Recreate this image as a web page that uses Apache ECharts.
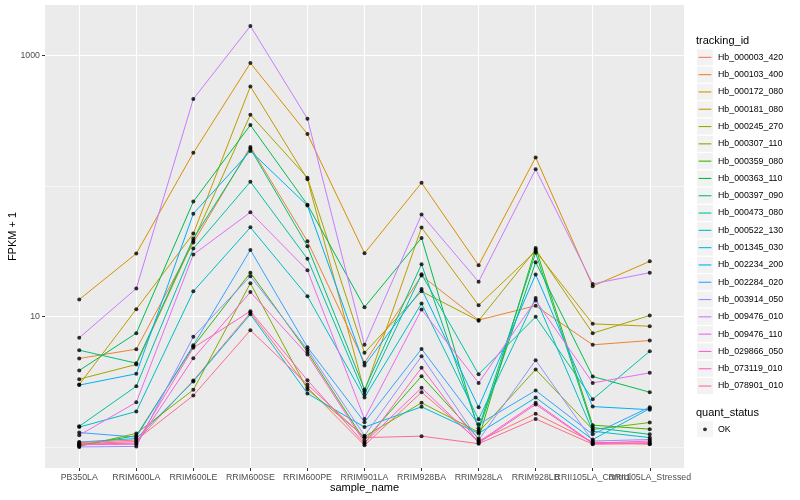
<!DOCTYPE html>
<html><head><meta charset="utf-8">
<script src="https://cdn.jsdelivr.net/npm/echarts@6/dist/echarts.min.js"></script>
<style>html,body{margin:0;padding:0;background:#fff}#c{width:800px;height:500px}</style>
</head><body><div id="c"></div>
<script>
// ---------- data ----------
const categories = ['PB350LA','RRIM600LA','RRIM600LE','RRIM600SE','RRIM600PE','RRIM901LA','RRIM928BA','RRIM928LA','RRIM928LB','RRII105LA_Control','RRII105LA_Stressed'];
const trackingIds = ['Hb_000003_420','Hb_000103_400','Hb_000172_080','Hb_000181_080','Hb_000245_270','Hb_000307_110','Hb_000359_080','Hb_000363_110','Hb_000397_090','Hb_000473_080','Hb_000522_130','Hb_001345_030','Hb_002234_200','Hb_002284_020','Hb_003914_050','Hb_009476_010','Hb_009476_110','Hb_029866_050','Hb_073119_010','Hb_078901_010'];
const Hb_000003_420 = [1.06, 1.10, 3.23, 10.7, 2.86, 1.03, 2.63, 1.11, 1.80, 1.09, 1.05];
const Hb_000103_400 = [4.77, 5.62, 36.9, 200, 37.8, 4.42, 20.6, 9.4, 12.1, 6.07, 6.55];
const Hb_000172_080 = [13.5, 30.4, 180, 879, 251, 30.6, 106, 24.7, 166, 17.1, 26.5];
const Hb_000181_080 = [3.01, 11.4, 43.3, 582, 113, 2.66, 48.1, 12.2, 31.7, 8.79, 8.43];
const Hb_000245_270 = [3.31, 4.29, 38.2, 353, 116, 5.27, 15.6, 9.3, 32.6, 7.45, 10.2];
const Hb_000307_110 = [1.01, 1.27, 2.74, 18.0, 2.76, 1.20, 2.18, 1.30, 3.93, 1.36, 1.54];
const Hb_000359_080 = [1.03, 1.22, 5.89, 21.7, 5.35, 1.12, 3.49, 1.16, 33.6, 1.47, 1.37];
const Hb_000363_110 = [3.86, 7.45, 76.1, 294, 72.1, 11.8, 40.1, 1.34, 26.1, 3.47, 2.63];
const Hb_000397_090 = [5.52, 4.39, 39.6, 194, 34.6, 2.76, 25.2, 1.39, 30.8, 1.41, 1.25];
const Hb_000473_080 = [1.44, 2.92, 33.2, 108, 27.7, 2.53, 21.1, 3.61, 9.95, 2.32, 5.42];
const Hb_000522_130 = [1.42, 1.87, 15.6, 48.3, 14.3, 2.39, 12.6, 1.63, 13.9, 1.32, 1.18];
const Hb_001345_030 = [1.09, 1.16, 3.18, 10.4, 2.57, 1.42, 2.03, 1.27, 2.39, 1.14, 1.97];
const Hb_002234_200 = [2.98, 3.64, 61.5, 186, 70.9, 4.21, 16.3, 2.02, 21.0, 2.04, 1.93];
const Hb_002284_020 = [1.29, 1.19, 6.03, 32.4, 5.82, 1.55, 5.65, 1.49, 2.71, 1.25, 2.02];
const Hb_003914_050 = [1.00, 1.01, 6.99, 20.4, 5.59, 1.22, 4.96, 1.13, 4.63, 1.11, 1.14];
const Hb_009476_010 = [6.87, 16.4, 466, 1689, 329, 6.07, 60.5, 18.5, 134.5, 17.8, 21.7];
const Hb_009476_110 = [1.23, 2.20, 29.9, 63.0, 22.6, 1.64, 11.3, 3.10, 13.3, 3.10, 3.70];
const Hb_029866_050 = [1.04, 1.05, 4.79, 15.4, 5.11, 1.08, 2.84, 1.09, 2.18, 1.07, 1.11];
const Hb_073119_010 = [1.05, 1.07, 5.76, 11.0, 3.25, 1.06, 4.05, 1.07, 2.12, 1.06, 1.08];
const Hb_078901_010 = [1.08, 1.13, 2.48, 7.85, 3.01, 1.18, 1.21, 1.06, 1.64, 1.05, 1.06];
const seriesValues = [Hb_000003_420, Hb_000103_400, Hb_000172_080, Hb_000181_080, Hb_000245_270, Hb_000307_110, Hb_000359_080, Hb_000363_110, Hb_000397_090, Hb_000473_080, Hb_000522_130, Hb_001345_030, Hb_002234_200, Hb_002284_020, Hb_003914_050, Hb_009476_010, Hb_009476_110, Hb_029866_050, Hb_073119_010, Hb_078901_010];
const yMajorTicks = [10, 1000];
const yMinorTicks = [1, 100];
const quantStatus = 'OK';

// ---------- style ----------
const palette = ['#F8766D','#EA8331','#D89000','#C09B00','#A3A500','#7CAE00','#39B600','#00BB4E','#00BF7D','#00C1A3','#00BFC4','#00BAE0','#00B0F6','#35A2FF','#9590FF','#C77CFF','#E76BF3','#FA62DB','#FF62BC','#FF6C91'];
const FONT = '"Liberation Sans", Arial, Helvetica, sans-serif';
const panel = {left: 45, top: 5, width: 639, height: 463};
const unit = panel.width / (categories.length - 1 + 1.2);

// log range with 5% expansion like ggplot
let lo = Infinity, hi = -Infinity;
seriesValues.forEach(a => a.forEach(v => { lo = Math.min(lo, Math.log10(v)); hi = Math.max(hi, Math.log10(v)); }));
const pad = (hi - lo) * 0.05;
const yMin = Math.pow(10, lo - pad), yMax = Math.pow(10, hi + pad);

const points = [];
seriesValues.forEach(vals => vals.forEach((v, j) => points.push([categories[j], v])));

const legendTop = 49.3, keyW = 16, keyH = 16, keyGap = 1.3, legendLeft = 697;
const lineIcon = 'path://M0,0M16,16M1.6,7.5L14.4,7.5L14.4,8.6L1.6,8.6Z';
const dotIcon = 'path://M0,0M16,16M6.1,8A1.9,1.9,0,1,1,9.9,8A1.9,1.9,0,1,1,6.1,8Z';
const legendBase = {orient: 'vertical', left: legendLeft, itemWidth: keyW, itemHeight: keyH, itemGap: keyGap, padding: 0, selectedMode: false};

const option = {
  animation: false,
  backgroundColor: '#FFFFFF',
  textStyle: {fontFamily: FONT},
  title: [
    {text: 'tracking_id', left: 696, top: 35, padding: 0, textStyle: {fontSize: 11, fontWeight: 'normal', color: '#000', fontFamily: FONT}},
    {text: 'quant_status', left: 696, top: 407, padding: 0, textStyle: {fontSize: 11, fontWeight: 'normal', color: '#000', fontFamily: FONT}}
  ],
  legend: [
    Object.assign({}, legendBase, {top: legendTop, data: trackingIds, icon: 'rect', z: 3,
      itemStyle: {color: '#F2F2F2', borderWidth: 0}, textStyle: {fontSize: 8.8, color: 'rgba(0,0,0,0)', fontFamily: FONT}}),
    Object.assign({}, legendBase, {top: legendTop, data: trackingIds, icon: lineIcon, z: 4,
      itemStyle: {borderWidth: 0}, textStyle: {fontSize: 8.8, color: '#000', fontFamily: FONT}}),
    Object.assign({}, legendBase, {top: 421.3, data: [quantStatus], icon: 'rect', z: 3,
      itemStyle: {color: '#F2F2F2', borderWidth: 0}, textStyle: {fontSize: 8.8, color: 'rgba(0,0,0,0)', fontFamily: FONT}}),
    Object.assign({}, legendBase, {top: 421.3, data: [quantStatus], icon: dotIcon, z: 4,
      itemStyle: {borderWidth: 0}, textStyle: {fontSize: 8.8, color: '#000', fontFamily: FONT}})
  ],
  grid: [
    {left: panel.left, top: panel.top, width: panel.width, height: panel.height, show: true, backgroundColor: '#EBEBEB', borderWidth: 0, containLabel: false, outerBoundsMode: 'none'},
    {left: panel.left + 0.6 * unit, top: panel.top, width: unit * (categories.length - 1), height: panel.height, show: false, containLabel: false, outerBoundsMode: 'none'}
  ],
  xAxis: [
    {gridIndex: 0, type: 'value', min: 0, max: 1, show: false},
    {gridIndex: 1, type: 'category', data: categories, boundaryGap: false,
      axisLine: {show: false},
      axisTick: {show: true, length: 3, interval: 0, lineStyle: {color: '#333333', width: 1}},
      axisLabel: {interval: 0, margin: 5, fontSize: 8.8, color: '#4D4D4D', fontFamily: FONT, hideOverlap: false},
      splitLine: {show: true, interval: 0, lineStyle: {color: '#FFFFFF', width: 1.1}},
      name: 'sample_name', nameLocation: 'middle', nameGap: 14, nameMoveOverlap: false,
      nameTextStyle: {fontSize: 11, color: '#000', fontFamily: FONT}}
  ],
  yAxis: [
    {gridIndex: 0, type: 'log', logBase: 10, min: yMin, max: yMax, position: 'left',
      axisLine: {show: false}, axisTick: {show: false, customValues: yMinorTicks}, axisLabel: {show: false},
      splitLine: {show: true, lineStyle: {color: '#FFFFFF', width: 0.55}}},
    {gridIndex: 0, type: 'log', logBase: 10, min: yMin, max: yMax, position: 'left', offset: 0,
      axisLine: {show: false},
      axisTick: {show: true, length: 3, customValues: yMajorTicks, lineStyle: {color: '#333333', width: 1}},
      axisLabel: {customValues: yMajorTicks, margin: 5, fontSize: 8.8, color: '#4D4D4D', fontFamily: FONT,
        formatter: v => String(Math.round(v))},
      splitLine: {show: true, lineStyle: {color: '#FFFFFF', width: 1.1}},
      name: 'FPKM + 1', nameLocation: 'middle', nameGap: 27, nameMoveOverlap: false,
      nameTextStyle: {fontSize: 11, color: '#000', fontFamily: FONT}},
    {gridIndex: 1, type: 'log', logBase: 10, min: yMin, max: yMax, show: false}
  ],
  series: trackingIds.map((id, i) => ({
    name: id, type: 'line', xAxisIndex: 1, yAxisIndex: 2, data: seriesValues[i],
    color: palette[i], itemStyle: {color: palette[i]}, lineStyle: {width: 1, color: palette[i]},
    showSymbol: false, silent: true, z: 2
  })).concat([{
    name: quantStatus, type: 'scatter', xAxisIndex: 1, yAxisIndex: 2, data: points,
    symbol: 'circle', symbolSize: 4, itemStyle: {color: '#000000'}, silent: true, z: 3
  }])
};

const chart = echarts.init(document.getElementById('c'));
chart.setOption(option);
</script></body></html>
